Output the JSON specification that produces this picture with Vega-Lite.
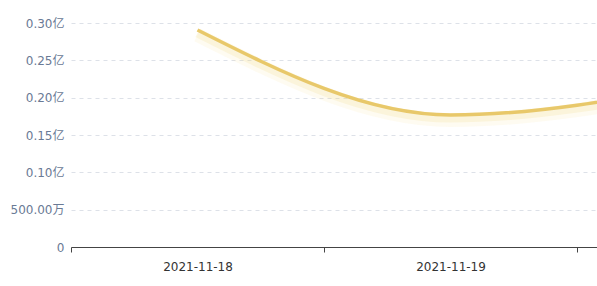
{
  "$schema": "https://vega.github.io/schema/vega-lite/v6.json",
  "width": 526,
  "height": 224,
  "autosize": "none",
  "padding": {"left": 71, "top": 23, "right": 0, "bottom": 39},
  "background": "white",
  "config": {"view": {"stroke": null}, "font": "DejaVu Sans, Noto Sans CJK SC"},
  "data": {"values": [
    {"date": "2021-11-18", "value": 0.2906},
    {"date": "2021-11-19", "value": 0.1768},
    {"date": "2021-11-20", "value": 0.219}
  ]},
  "encoding": {
    "x": {
      "field": "date", "type": "ordinal",
      "scale": {"type": "band", "domain": ["2021-11-18", "2021-11-19", "2021-11-20"], "range": [0, 759], "paddingInner": 0, "paddingOuter": 0},
      "axis": {"title": null, "labelAngle": 0, "tickBand": "extent", "grid": false, "domainColor": "#444", "tickColor": "#444", "tickSize": 5, "labelPadding": 9, "labelColor": "#333", "labelFontSize": 12, "labelFont": "DejaVu Sans, Noto Sans CJK SC",
        "labelExpr": "datum.value == '2021-11-20' ? '' : datum.label"}
    },
    "y": {
      "field": "value", "type": "quantitative",
      "scale": {"domain": [0, 0.3], "nice": false, "zero": true},
      "axis": {"title": null, "values": [0, 0.05, 0.1, 0.15, 0.2, 0.25, 0.3], "domain": false, "ticks": false, "labelPadding": 7, "labelColor": "#6a7a95", "labelFontSize": 12, "labelFont": "DejaVu Sans, Noto Sans CJK SC", "gridColor": "#dde1e8", "gridDash": [4, 4], "gridWidth": 1,
        "labelExpr": "datum.value == 0 ? '0' : (datum.value < 0.099 ? format(datum.value * 10000, '.2f') + '万' : format(datum.value, '.2f') + '亿')"}
    }
  },
  "layer": [
    {"mark": {"type": "line", "interpolate": "monotone", "clip": true, "stroke": "#f3dd8a", "strokeWidth": 14, "opacity": 0.12, "yOffset": 5}},
    {"mark": {"type": "line", "interpolate": "monotone", "clip": true, "stroke": "#f0d67c", "strokeWidth": 9, "opacity": 0.18, "yOffset": 3}},
    {"mark": {"type": "line", "interpolate": "monotone", "clip": true, "stroke": "#e8c86a", "strokeWidth": 3.5}}
  ]
}
